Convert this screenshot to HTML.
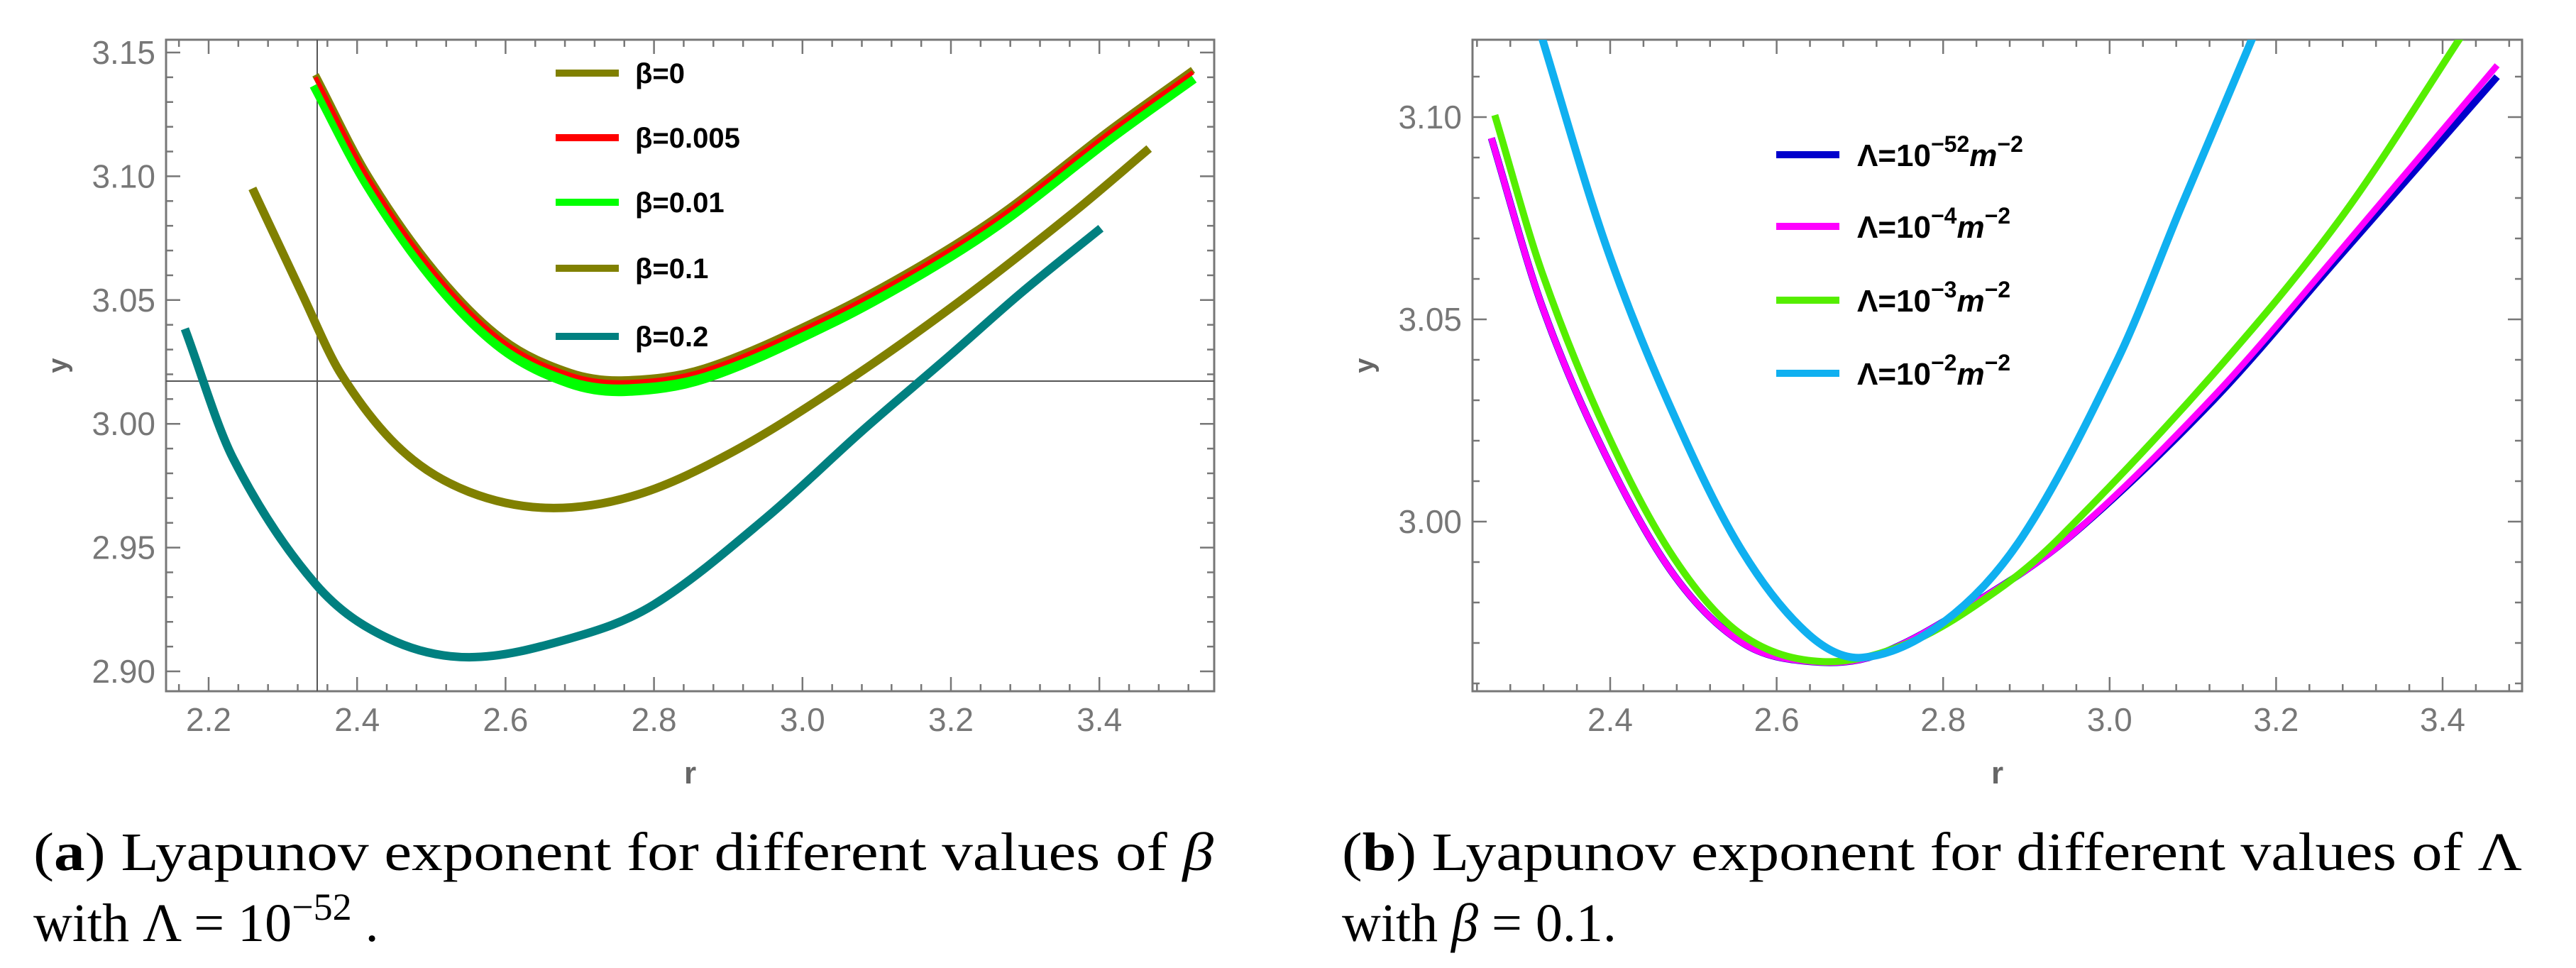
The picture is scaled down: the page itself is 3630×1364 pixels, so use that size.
<!DOCTYPE html>
<html><head><meta charset="utf-8"><style>
html,body{margin:0;padding:0;background:#fff;}
svg{display:block;}
</style></head><body>
<svg id="fig" width="3630" height="1364" viewBox="0 0 3630 1364" xmlns="http://www.w3.org/2000/svg">
<defs>
<clipPath id="clipA"><rect x="234" y="56" width="1477" height="918"/></clipPath>
<clipPath id="clipB"><rect x="2075" y="56" width="1479" height="918"/></clipPath>
</defs>
<g id="chartA"></g>
<g id="chartB"></g>
<g font-family="'Liberation Serif', serif" font-size="76" fill="#000">
<text x="47" y="1226" textLength="1663" lengthAdjust="spacingAndGlyphs">(<tspan font-weight="bold">a</tspan>)  Lyapunov exponent for different values of <tspan font-style="italic">β</tspan></text>
<text x="47" y="1326">with Λ = 10<tspan dy="-30" font-size="54">−52</tspan><tspan dy="30"> .</tspan></text>
</g>
<g font-family="'Liberation Serif', serif" font-size="76" fill="#000">
<text x="1891" y="1226" textLength="1663" lengthAdjust="spacingAndGlyphs">(<tspan font-weight="bold">b</tspan>)  Lyapunov exponent for different values of Λ</text>
<text x="1891" y="1326">with <tspan font-style="italic">β</tspan> = 0.1.</text>
</g>
</svg>
<script>
// ---- Chart A data ----
const aTop_r = [2.344, 2.415, 2.506, 2.596, 2.687, 2.760, 2.868, 3.0365, 3.1656, 3.2727, 3.413, 3.526];
const aBeta0_v = [3.141, 3.1003, 3.0614, 3.0344, 3.0208, 3.0178, 3.0226, 3.0443, 3.0653, 3.086, 3.1186, 3.143];
const aBeta005_v = [3.140, 3.0993, 3.0604, 3.0334, 3.0198, 3.0168, 3.0216, 3.0433, 3.0643, 3.085, 3.1176, 3.142];
const aBeta01_v = [3.137, 3.0970, 3.0580, 3.0310, 3.0170, 3.0138, 3.0190, 3.0410, 3.0622, 3.083, 3.1156, 3.140];
const aBeta1_r = [2.259, 2.324, 2.379, 2.460, 2.551, 2.660, 2.779, 2.908, 3.058, 3.2086, 3.3635, 3.467];
const aBeta1_v = [3.0951, 3.0537, 3.0198, 2.9894, 2.9725, 2.966, 2.9715, 2.989, 3.0169, 3.0488, 3.085, 3.1112];
const aBeta2_r = [2.168, 2.233, 2.344, 2.442, 2.551, 2.687, 2.800, 2.951, 3.0795, 3.200, 3.295, 3.402];
const aBeta2_v = [3.0384, 2.986, 2.9353, 2.9133, 2.9057, 2.9133, 2.927, 2.962, 2.9969, 3.028, 3.053, 3.079];
const aXTicks = [2.2, 2.4, 2.6, 2.8, 3.0, 3.2, 3.4];
const aYTicks = [2.90, 2.95, 3.00, 3.05, 3.10, 3.15];
const aLegend = ["β=0", "β=0.005", "β=0.01", "β=0.1", "β=0.2"];
// ---- Chart B data ----
const bLow_r = [2.2573, 2.3188, 2.3964, 2.4773, 2.5583, 2.639, 2.720, 2.8414, 2.9525, 3.1246, 3.278, 3.4656];
const bBlue_v = [3.0948, 3.0529, 3.0156, 2.9866, 2.9701, 2.9654, 2.9670, 2.9804, 2.9963, 3.0300, 3.0660, 3.1100];
const bMag_v = [3.0948, 3.0529, 3.0156, 2.9866, 2.9701, 2.9654, 2.9670, 2.9804, 2.9963, 3.0309, 3.0672, 3.1128];
const bGreen_r = [2.2614, 2.3188, 2.3964, 2.4773, 2.5583, 2.655, 2.760, 2.8650, 2.9413, 3.1246, 3.278, 3.4196, 3.44];
const bGreen_v = [3.1005, 3.0612, 3.0218, 2.9908, 2.972, 2.9654, 2.9701, 2.9830, 2.9963, 3.0365, 3.0751, 3.1191, 3.126];
const bCyan_r = [2.305, 2.3188, 2.3964, 2.4773, 2.5583, 2.639, 2.7038, 2.8009, 2.8953, 3.0104, 3.0867, 3.1707, 3.185];
const bCyan_v = [3.129, 3.1191, 3.0674, 3.026, 2.9928, 2.972, 2.9664, 2.9752, 2.9963, 3.0404, 3.0782, 3.1191, 3.127];
const bXTicks = [2.4, 2.6, 2.8, 3.0, 3.2, 3.4];
const bYTicks = [3.00, 3.05, 3.10];
const bLegend = ["Λ=10", "Λ=10", "Λ=10", "Λ=10"];
const bLegendExp = ["−52", "−4", "−3", "−2"];

const NS = "http://www.w3.org/2000/svg";
function mk(tag, attrs, parent){const e=document.createElementNS(NS,tag);for(const k in attrs)e.setAttribute(k,attrs[k]);parent.appendChild(e);return e;}
function smooth(pts){
  const n=pts.length, m=[];
  for(let i=0;i<n;i++){
    const a=pts[Math.max(0,i-1)], b=pts[Math.min(n-1,i+1)];
    m.push((b[1]-a[1])/(b[0]-a[0]));
  }
  let d="M"+pts[0][0].toFixed(1)+","+pts[0][1].toFixed(1);
  for(let i=0;i<n-1;i++){
    const p1=pts[i],p2=pts[i+1],h=p2[0]-p1[0];
    const c1=[p1[0]+h/3,p1[1]+m[i]*h/3], c2=[p2[0]-h/3,p2[1]-m[i+1]*h/3];
    d+=" C"+c1[0].toFixed(1)+","+c1[1].toFixed(1)+" "+c2[0].toFixed(1)+","+c2[1].toFixed(1)+" "+p2[0].toFixed(1)+","+p2[1].toFixed(1);
  }
  return d;
}
function frame(g, L, T, R, B, xs, ys, xTicks, yTicks, xMinor, yMinor, xmin, xmax, ymin, ymax){
  const ax=mk("g",{},g);
  
  
  mk("rect",{x:L,y:T,width:R-L,height:B-T,fill:"none",stroke:"#777","stroke-width":3},ax);
  for(let v=Math.ceil(xmin/xMinor-1e-6)*xMinor; v<=xmax+1e-9; v+=xMinor){
    const major=xTicks.some(t=>Math.abs(t-v)<1e-6);const len=major?20:10;const x=xs(v);
    mk("line",{x1:x,y1:B,x2:x,y2:B-len,stroke:"#777","stroke-width":2.5},ax);
    mk("line",{x1:x,y1:T,x2:x,y2:T+len,stroke:"#777","stroke-width":2.5},ax);
  }
  for(let v=Math.ceil(ymin/yMinor-1e-6)*yMinor; v<=ymax+1e-9; v+=yMinor){
    const major=yTicks.some(t=>Math.abs(t-v)<1e-6);const len=major?20:10;const y=ys(v);
    mk("line",{x1:L,y1:y,x2:L+len,y2:y,stroke:"#777","stroke-width":2.5},ax);
    mk("line",{x1:R,y1:y,x2:R-len,y2:y,stroke:"#777","stroke-width":2.5},ax);
  }
  xTicks.forEach(v=>{const t=mk("text",{x:xs(v),y:B+56,"text-anchor":"middle","font-family":"Liberation Sans, sans-serif","font-size":46,fill:"#777"},g);
    
    
    t.textContent=v.toFixed(1);});
  yTicks.forEach(v=>{const t=mk("text",{x:L-15,y:ys(v)+16,"text-anchor":"end","font-family":"Liberation Sans, sans-serif","font-size":46,fill:"#777"},g);
    
    
    t.textContent=v.toFixed(2);});
  const xl=mk("text",{x:(L+R)/2,y:1104,"text-anchor":"middle","font-family":"Liberation Sans, sans-serif","font-size":44,"font-weight":"bold",fill:"#666"},g);
  
  
  xl.textContent="r";
  const yl=mk("text",{x:0,y:0,"text-anchor":"middle","font-family":"Liberation Sans, sans-serif","font-size":38,"font-weight":"bold",fill:"#666",transform:`translate(${L-140},${(T+B)/2}) rotate(-90)`},g);
  
  
  yl.textContent="y";
}
function series(g, clip, rs, vs, xs, ys, color, w, name){
  const p=mk("path",{d:smooth(rs.map((r,i)=>[xs(r),ys(vs[i])])),fill:"none",stroke:color,"stroke-width":w,"stroke-linecap":"butt","stroke-linejoin":"round","clip-path":clip},g);
  
  
}

// Chart A
(function(){
  const g=document.getElementById("chartA");
  const L=234,T=56,R=1711,B=974;
  const xs=r=>294+(r-2.2)*1046, ys=v=>74+(3.15-v)*3488;
  frame(g,L,T,R,B,xs,ys,aXTicks,aYTicks,0.04,0.01,2.143,3.555,2.892,3.155);
  const gl=mk("g",{stroke:"#555","stroke-width":2},g);
  
  
  mk("line",{x1:L,y1:537,x2:R,y2:537},gl);
  mk("line",{x1:447,y1:T,x2:447,y2:B},gl);
  series(g,"url(#clipA)",aBeta2_r,aBeta2_v,xs,ys,"#008080",12,"series-beta-0.2");
  series(g,"url(#clipA)",aBeta1_r,aBeta1_v,xs,ys,"#808000",12,"series-beta-0.1");
  series(g,"url(#clipA)",aTop_r,aBeta01_v,xs,ys,"#00ff00",18,"series-beta-0.01");
  series(g,"url(#clipA)",aTop_r,aBeta0_v,xs,ys,"#808000",10,"series-beta-0");
  series(g,"url(#clipA)",aTop_r,aBeta005_v,xs,ys,"#ff0000",6,"series-beta-0.005");
  const cols=["#808000","#ff0000","#00ff00","#808000","#008080"];
  const rowsY=[103,194,285,378,474];
  aLegend.forEach((lab,i)=>{
    const e=mk("g",{},g);
    
    
    mk("line",{x1:783,y1:rowsY[i],x2:872,y2:rowsY[i],stroke:cols[i],"stroke-width":10},e);
    const t=mk("text",{x:895,y:rowsY[i]+14,"font-family":"Liberation Sans, sans-serif","font-size":40,"font-weight":"bold",fill:"#000"},e);
    t.textContent=lab;
  });
})();

// Chart B
(function(){
  const g=document.getElementById("chartB");
  const L=2075,T=56,R=3554,B=974;
  const xs=r=>2269+(r-2.4)*1173, ys=v=>165+(3.10-v)*5700;
  frame(g,L,T,R,B,xs,ys,bXTicks,bYTicks,0.04,0.01,2.2346,3.4955,2.958,3.1191);
  series(g,"url(#clipB)",bLow_r,bBlue_v,xs,ys,"#0000cc",10,"series-lambda-1e-52");
  series(g,"url(#clipB)",bLow_r,bMag_v,xs,ys,"#ff00ff",9,"series-lambda-1e-4");
  series(g,"url(#clipB)",bGreen_r,bGreen_v,xs,ys,"#55ee00",10,"series-lambda-1e-3");
  series(g,"url(#clipB)",bCyan_r,bCyan_v,xs,ys,"#10b0f0",11,"series-lambda-1e-2");
  const cols=["#0000cc","#ff00ff","#55ee00","#10b0f0"];
  const rowsY=[218,319,423,526];
  bLegend.forEach((lab,i)=>{
    const e=mk("g",{},g);
    
    
    mk("line",{x1:2503,y1:rowsY[i],x2:2592,y2:rowsY[i],stroke:cols[i],"stroke-width":10},e);
    const t=mk("text",{x:2617,y:rowsY[i]+16,"font-family":"Liberation Sans, sans-serif","font-size":44,"font-weight":"bold",fill:"#000"},e);
    t.innerHTML=lab+'<tspan dy="-20" font-size="32">'+bLegendExp[i]+'</tspan><tspan dy="20" font-style="italic">m</tspan><tspan dy="-20" font-size="32">−2</tspan>';
  });
})();
</script>
</body></html>
